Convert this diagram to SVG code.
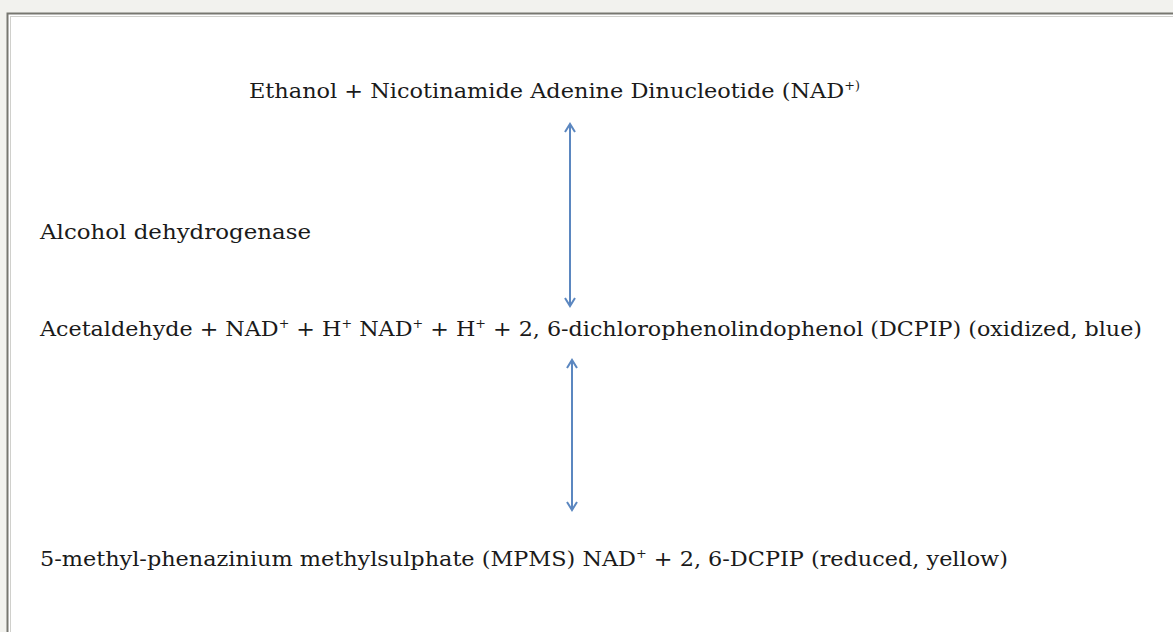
<svg xmlns="http://www.w3.org/2000/svg" width="1173" height="632" viewBox="0 0 1173 632">
<defs>
<style>
.t{font-family:"DejaVu Serif","Liberation Serif",serif;font-stretch:condensed;font-size:21px;fill:#1a1a1a}
.sup{font-size:12px}
.conn{stroke:#5b87c0;stroke-width:2;fill:none}
</style>
<marker id="ah" viewBox="0 0 12 12" refX="10" refY="6" markerWidth="12" markerHeight="12" markerUnits="userSpaceOnUse" orient="auto-start-reverse">
<path d="M2,1 L10,6 L2,11" fill="none" stroke="#5b87c0" stroke-width="2"/>
</marker>
</defs>
<rect x="0" y="0" width="1173" height="632" fill="#f2f2ee"/>
<rect x="7.5" y="13.5" width="1180" height="640" fill="#ffffff" stroke="#777770" stroke-width="2"/>
<rect x="10.5" y="16.5" width="1180" height="640" fill="none" stroke="#d0d0cc" stroke-width="1"/>
<g id="node-ethanol"><text class="t" x="249" y="98" textLength="611" lengthAdjust="spacingAndGlyphs">Ethanol + Nicotinamide Adenine Dinucleotide (NAD<tspan class="sup" dy="-8">+)</tspan></text></g>
<g id="node-enzyme"><text class="t" x="40" y="239" textLength="271" lengthAdjust="spacingAndGlyphs">Alcohol dehydrogenase</text></g>
<g id="node-acetaldehyde"><text class="t" x="40" y="336" textLength="1102" lengthAdjust="spacingAndGlyphs">Acetaldehyde + NAD<tspan class="sup" dy="-8">+</tspan><tspan dy="8"> + H</tspan><tspan class="sup" dy="-8">+</tspan><tspan dy="8"> NAD</tspan><tspan class="sup" dy="-8">+</tspan><tspan dy="8"> + H</tspan><tspan class="sup" dy="-8">+</tspan><tspan dy="8"> + 2, 6-dichlorophenolindophenol (DCPIP) (oxidized, blue)</tspan></text></g>
<g id="node-mpms"><text class="t" x="40" y="566" textLength="968" lengthAdjust="spacingAndGlyphs">5-methyl-phenazinium methylsulphate (MPMS) NAD<tspan class="sup" dy="-8">+</tspan><tspan dy="8"> + 2, 6-DCPIP (reduced, yellow)</tspan></text></g>
<g id="connectors">
<line class="conn" x1="570" y1="306" x2="570" y2="124" marker-start="url(#ah)" marker-end="url(#ah)"/>
<line class="conn" x1="572" y1="510" x2="572" y2="360" marker-start="url(#ah)" marker-end="url(#ah)"/>
</g>
</svg>
